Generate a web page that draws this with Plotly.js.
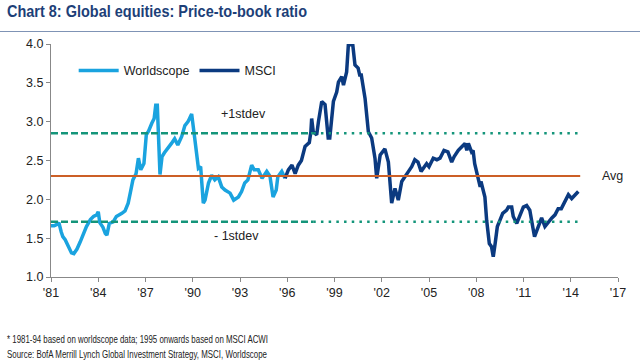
<!DOCTYPE html>
<html>
<head>
<meta charset="utf-8">
<script src="https://cdn.plot.ly/plotly-3.0.1.min.js"></script>
<style>
html,body{margin:0;padding:0;background:#fff;}
#chart{width:640px;height:360px;}
</style>
</head>
<body>
<div id="chart"></div>
<script>
// Worldscope (1981-1995)
var wsYear = [1981.0,1981.2,1981.4,1981.5,1981.65,1981.75,1981.9,1982.1,1982.3,1982.45,1982.55,1982.65,1982.85,1983.05,1983.25,1983.5,1983.7,1983.9,1984.0,1984.1,1984.3,1984.45,1984.55,1984.7,1984.95,1985.15,1985.35,1985.5,1985.7,1985.9,1986.05,1986.2,1986.4,1986.55,1986.7,1986.9,1987.05,1987.2,1987.4,1987.55,1987.65,1987.75,1987.92,1988.05,1988.2,1988.45,1988.65,1988.85,1989.05,1989.3,1989.5,1989.7,1989.93,1990.14,1990.25,1990.36,1990.5,1990.67,1990.78,1991.0,1991.2,1991.4,1991.62,1991.84,1992.05,1992.37,1992.6,1992.9,1993.1,1993.3,1993.5,1993.74,1993.9,1994.16,1994.4,1994.7,1994.9,1995.1,1995.3,1995.4,1995.65,1995.86];
var wsValue = [1.66,1.66,1.68,1.70,1.58,1.52,1.48,1.39,1.31,1.30,1.33,1.36,1.45,1.56,1.65,1.74,1.78,1.80,1.84,1.70,1.64,1.56,1.54,1.69,1.71,1.78,1.80,1.82,1.85,1.95,2.10,2.25,2.33,2.53,2.38,2.46,2.83,2.88,2.98,3.04,3.21,3.21,2.32,2.55,2.60,2.66,2.72,2.78,2.70,2.81,2.95,3.00,3.10,2.76,2.55,2.40,2.42,1.95,1.99,2.21,2.31,2.25,2.29,2.16,2.12,2.08,1.99,2.03,2.10,2.21,2.25,2.44,2.38,2.38,2.27,2.36,2.30,2.03,2.12,2.29,2.36,2.27];

// MSCI ACWI (1995 onwards)
var msciYear = [1995.86,1996.07,1996.3,1996.5,1996.7,1996.9,1997.13,1997.4,1997.5,1997.55,1997.65,1997.87,1997.98,1998.19,1998.4,1998.6,1998.7,1998.93,1999.14,1999.25,1999.46,1999.57,1999.77,1999.88,2000.16,2000.3,2000.5,2000.6,2000.7,2000.94,2001.15,2001.36,2001.57,2001.68,2001.9,2002.05,2002.2,2002.42,2002.63,2002.84,2003.05,2003.27,2003.5,2003.7,2003.9,2004.1,2004.3,2004.5,2004.85,2005.0,2005.27,2005.5,2005.7,2005.95,2006.2,2006.44,2006.6,2006.86,2007.1,2007.29,2007.4,2007.5,2007.7,2007.8,2007.9,2008.13,2008.25,2008.3,2008.55,2008.66,2008.83,2008.97,2009.08,2009.2,2009.34,2009.5,2009.68,2009.93,2010.04,2010.25,2010.35,2010.57,2010.8,2010.99,2011.2,2011.4,2011.6,2011.7,2011.94,2012.15,2012.36,2012.57,2012.8,2013.0,2013.2,2013.4,2013.63,2013.85,2014.06,2014.27,2014.48];
var msciValue = [2.27,2.38,2.44,2.33,2.44,2.50,2.68,2.73,2.87,3.04,2.87,2.83,3.00,3.26,3.22,2.79,2.79,3.26,3.38,3.51,3.58,3.47,3.64,3.99,3.99,3.73,3.69,3.60,3.60,3.30,2.87,2.79,2.53,2.27,2.57,2.61,2.65,2.48,1.95,2.14,1.99,2.23,2.29,2.36,2.42,2.51,2.48,2.36,2.46,2.42,2.53,2.51,2.53,2.63,2.61,2.48,2.55,2.63,2.68,2.72,2.63,2.72,2.61,2.63,2.46,2.25,2.16,2.23,2.03,1.73,1.43,1.39,1.26,1.43,1.65,1.73,1.82,1.86,1.90,1.90,1.78,1.69,1.80,1.90,1.92,1.86,1.63,1.52,1.65,1.76,1.65,1.71,1.76,1.80,1.88,1.88,1.97,2.06,2.01,2.06,2.10];

// Reference levels
var avgValue = 2.30;
var plusSd = 2.85;
var minusSd = 1.71;
var refStart = 1981.0, refSwitch = 1997.65, refEnd = 2014.6;

var tickYears = [1981,1984,1987,1990,1993,1996,1999,2002,2005,2008,2011,2014,2017];
var tickLabels = ["'81","'84","'87","'90","'93","'96","'99","'02","'05","'08","'11","'14","'17"];

var teal = '#14957a';
var traces = [
  {x: wsYear, y: wsValue, type:'scatter', mode:'lines', name:'Worldscope',
   line:{color:'#1aa3df', width:3.5}},
  {x: msciYear, y: msciValue, type:'scatter', mode:'lines', name:'MSCI',
   line:{color:'#0b3a80', width:3.5}},
  {x:[refStart, refEnd], y:[avgValue, avgValue], type:'scatter', mode:'lines', showlegend:false, hoverinfo:'skip',
   line:{color:'#cc5f26', width:2}},
  {x:[refStart, refSwitch], y:[plusSd, plusSd], type:'scatter', mode:'lines', showlegend:false, hoverinfo:'skip',
   line:{color:teal, width:2.5, dash:'7px,3px'}},
  {x:[refSwitch, refEnd], y:[plusSd, plusSd], type:'scatter', mode:'lines', showlegend:false, hoverinfo:'skip',
   line:{color:teal, width:2.5, dash:'2.5px,5.2px'}},
  {x:[refStart, refSwitch], y:[minusSd, minusSd], type:'scatter', mode:'lines', showlegend:false, hoverinfo:'skip',
   line:{color:teal, width:2.5, dash:'7px,3px'}},
  {x:[refSwitch, refEnd], y:[minusSd, minusSd], type:'scatter', mode:'lines', showlegend:false, hoverinfo:'skip',
   line:{color:teal, width:2.5, dash:'2.5px,5.2px'}}
];

var baseFont = {family:'"Liberation Sans", Arial, sans-serif', size:12.5, color:'#222'};
var narrow = '"Liberation Sans Narrow", "Arial Narrow", "Liberation Sans", Arial, sans-serif';

var layout = {
  width:640, height:360,
  margin:{l:51, r:22, t:44, b:83},
  paper_bgcolor:'#fff', plot_bgcolor:'#fff',
  font: baseFont,
  showlegend:true,
  legend:{orientation:'h', x:0.04, y:0.885, xanchor:'left', yanchor:'middle',
          bgcolor:'rgba(0,0,0,0)', font:{family:baseFont.family, size:12.5, color:'#222'},
          itemwidth:40, tracegroupgap:0},
  xaxis:{range:[1981, 2017], tickvals:tickYears, ticktext:tickLabels,
         showgrid:false, zeroline:false, showline:true, linecolor:'#888', linewidth:1,
         ticks:'outside', ticklen:4, tickcolor:'#888', tickfont:baseFont, fixedrange:true},
  yaxis:{range:[1, 4], dtick:0.5, tickformat:'.1f',
         showgrid:false, zeroline:false, showline:true, linecolor:'#888', linewidth:1,
         ticks:'outside', ticklen:4, tickcolor:'#888', tickfont:baseFont, fixedrange:true},
  annotations:[
    {xref:'x', yref:'y', x:1993.2, y:plusSd, yshift:19, text:'+1stdev', showarrow:false,
     xanchor:'center', font:baseFont},
    {xref:'x', yref:'y', x:1992.8, y:minusSd, yshift:-14, text:'- 1stdev', showarrow:false,
     xanchor:'center', font:baseFont},
    {xref:'paper', yref:'y', x:1.0, y:avgValue, xshift:-18, text:'Avg', showarrow:false,
     xanchor:'left', font:baseFont},
    {xref:'paper', yref:'paper', x:0, y:1, xshift:-51+6, yshift:44, xanchor:'left', yanchor:'top',
     text:'<b>Chart 8: Global equities: Price-to-book ratio</b>', showarrow:false,
     font:{family:narrow, size:17, color:'#1d3f78'}},
    {xref:'paper', yref:'paper', x:0, y:0, xshift:-51+5, yshift:-62, xanchor:'left', yanchor:'middle',
     text:'* 1981-94 based on worldscope data; 1995 onwards based on MSCI ACWI', showarrow:false,
     font:{family:narrow, size:10.5, color:'#222'}},
    {xref:'paper', yref:'paper', x:0, y:0, xshift:-51+5, yshift:-77, xanchor:'left', yanchor:'middle',
     text:'Source: BofA Merrill Lynch Global Investment Strategy, MSCI, Worldscope', showarrow:false,
     font:{family:narrow, size:10.5, color:'#222'}}
  ],
  shapes:[
    {type:'line', xref:'paper', yref:'paper', x0:-51/567, x1:589/567, y0:1+12.5/233, y1:1+12.5/233,
     line:{color:'#7f93b5', width:1}}
  ]
};

function squeeze(idx, width, left){
  var t = document.querySelector('.annotation[data-index="'+idx+'"] text.annotation-text');
  if(!t) return;
  t.setAttribute('textLength', width);
  t.setAttribute('lengthAdjust', 'spacingAndGlyphs');
  var bb = t.getBoundingClientRect();
  var host = document.getElementById('chart').getBoundingClientRect();
  var dx = (host.left + left) - bb.left;
  var tr = t.getAttribute('transform') || '';
  t.setAttribute('transform', tr + ' translate(' + dx + ',0)');
}

Plotly.newPlot('chart', traces, layout, {displayModeBar:false, staticPlot:true}).then(function(){
  squeeze(3, 300, 7);
  squeeze(4, 261, 7);
  squeeze(5, 260, 7);
});
</script>
</body>
</html>
